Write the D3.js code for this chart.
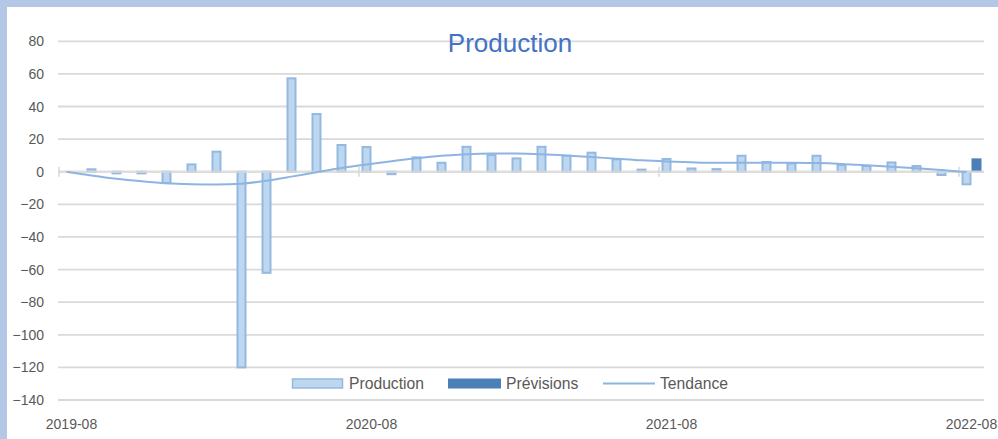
<!DOCTYPE html>
<html>
<head>
<meta charset="utf-8">
<script src="https://cdn.jsdelivr.net/npm/d3@7"></script>
<style>
  html, body { margin: 0; padding: 0; background: #fff; }
  svg { display: block; }
  text { font-family: "Liberation Sans", Arial, sans-serif; }
</style>
</head>
<body>
<svg id="chart" width="998" height="439"></svg>
<script>
// ---- Data ----
const categories = [
  "2019-08","2019-09","2019-10","2019-11","2019-12","2020-01","2020-02","2020-03","2020-04","2020-05","2020-06","2020-07",
  "2020-08","2020-09","2020-10","2020-11","2020-12","2021-01","2021-02","2021-03","2021-04","2021-05","2021-06","2021-07",
  "2021-08","2021-09","2021-10","2021-11","2021-12","2022-01","2022-02","2022-03","2022-04","2022-05","2022-06","2022-07",
  "2022-08"
];
const production = [
  0, 1.5, -1, -1, -7, 4.5, 12.3, -120, -62, 57.3, 35.4, 16.4,
  15.2, -1.5, 8.8, 5.5, 15.3, 10.2, 8.2, 15.3, 9.8, 11.7, 7.6, 1.3,
  7.8, 2, 1.6, 9.8, 6, 5.1, 9.8, 4.1, 3.5, 5.7, 3.5, -2,
  -7.7
];
const previsions = [
  null, null, null, null, null, null, null, null, null, null, null, null,
  null, null, null, null, null, null, null, null, null, null, null, null,
  null, null, null, null, null, null, null, null, null, null, null, null,
  8.2
];
const tendance = [
  0, -2.3, -4.3, -5.8, -7, -7.6, -7.8, -7.3, -5.5, -3, -0.3, 2.3,
  4.5, 6.5, 8.3, 9.8, 10.8, 11.2, 11.2, 10.8, 10, 9, 8, 7,
  6.3, 5.8, 5.5, 5.5, 5.5, 5.5, 5.3, 4.8, 4, 3.1, 2.1, 1,
  -0.2
];
const yTicks = [80, 60, 40, 20, 0, -20, -40, -60, -80, -100, -120, -140];
const xTickLabels = ["2019-08", "2020-08", "2021-08", "2022-08"];
const seriesNames = ["Production", "Prévisions", "Tendance"];
const title = "Production";

// ---- Layout ----
const svg = d3.select("#chart");
const W = 998, H = 439;
const colors = { prod: "#bdd7ee", prodStroke: "#93b9e2", prev: "#4a7fb8", trend: "#8eb4e3", grid: "#d9d9d9", text: "#595959" };

// background + border (left/top visible)
svg.append("rect").attr("x", 0).attr("y", 0).attr("width", W).attr("height", H).attr("fill", "#b4c7e7");
svg.append("rect").attr("x", 7).attr("y", 7).attr("width", W - 7).attr("height", H - 7).attr("fill", "#ffffff");

const x0 = d3.scaleBand().domain(categories).range([59, 984]);
const x1 = d3.scaleBand().domain(["Production", "Prévisions"]).range([0, x0.bandwidth()]).paddingOuter(0.25);
const y = d3.scaleLinear().domain([-140, 80]).range([400, 41.3]);

// gridlines
svg.append("g").selectAll("line").data(yTicks.filter(d => d !== 0)).join("line")
  .attr("x1", 58).attr("x2", 984)
  .attr("y1", d => y(d)).attr("y2", d => y(d))
  .attr("stroke", colors.grid).attr("stroke-width", 1.8);

// y axis labels
const yAxis = d3.axisLeft(y).tickValues(yTicks).tickSize(0).tickPadding(0);
const gy = svg.append("g").attr("transform", "translate(44,0)").call(yAxis);
gy.select(".domain").remove();
gy.selectAll("text").attr("fill", colors.text).style("font-size", "14px").style("font-family", "'Liberation Sans', Arial, sans-serif");

// bars
const bars = svg.append("g");
bars.selectAll("rect.prod").data(categories.map((c, i) => ({ c, v: production[i] }))).join("rect")
  .attr("class", "prod")
  .attr("x", d => x0(d.c) + x1("Production") + 1)
  .attr("width", x1.bandwidth() - 2)
  .attr("y", d => Math.min(y(d.v), y(0)))
  .attr("height", d => Math.abs(y(d.v) - y(0)))
  .attr("fill", colors.prod).attr("stroke", colors.prodStroke).attr("stroke-width", 2);

bars.selectAll("rect.prev").data(categories.map((c, i) => ({ c, v: previsions[i] })).filter(d => d.v !== null)).join("rect")
  .attr("class", "prev")
  .attr("x", d => x0(d.c) + x1("Prévisions"))
  .attr("width", x1.bandwidth())
  .attr("y", d => Math.min(y(d.v), y(0)))
  .attr("height", d => Math.abs(y(d.v) - y(0)))
  .attr("fill", colors.prev);

// zero axis line with ticks
const gx = svg.append("g").attr("transform", `translate(0,${y(0)})`);
gx.append("line").attr("x1", 58).attr("x2", 984).attr("y1", 0).attr("y2", 0)
  .attr("stroke", colors.grid).attr("stroke-width", 2.5).attr("opacity", 0.85);
gx.selectAll("line.tick").data(xTickLabels).join("line")
  .attr("class", "tick")
  .attr("x1", d => x0(d)).attr("x2", d => x0(d))
  .attr("y1", -5).attr("y2", 5)
  .attr("stroke", colors.grid).attr("stroke-width", 1.5);

// trend line
const line = d3.line()
  .x((d, i) => x0(categories[i]) + x1("Production") + x1.bandwidth() / 2)
  .y(d => y(d))
  .curve(d3.curveMonotoneX);
svg.append("path").datum(tendance).attr("d", line)
  .attr("fill", "none").attr("stroke", colors.trend).attr("stroke-width", 2);

// x labels at bottom
svg.append("g").selectAll("text").data(xTickLabels).join("text")
  .attr("x", d => x0(d) + x0.bandwidth() / 2)
  .attr("y", 429)
  .attr("text-anchor", "middle")
  .attr("fill", colors.text).style("font-size", "14px")
  .text(d => d);

// title
svg.append("text").attr("x", 510).attr("y", 52).attr("text-anchor", "middle")
  .attr("fill", "#4472c4").style("font-size", "26px").text(title);

// legend
const lg = svg.append("g");
const ly = 383.5;
lg.append("rect").attr("x", 292.5).attr("y", ly - 4.5).attr("width", 50).attr("height", 9)
  .attr("fill", colors.prod).attr("stroke", colors.prodStroke).attr("stroke-width", 1.5);
lg.append("text").attr("x", 349).attr("y", ly).attr("dy", "0.36em").attr("fill", colors.text)
  .style("font-size", "15.7px").text(seriesNames[0]);
lg.append("rect").attr("x", 448).attr("y", ly - 5).attr("width", 53).attr("height", 10)
  .attr("fill", colors.prev);
lg.append("text").attr("x", 506).attr("y", ly).attr("dy", "0.36em").attr("fill", colors.text)
  .style("font-size", "15.7px").text(seriesNames[1]);
lg.append("line").attr("x1", 603).attr("x2", 655).attr("y1", ly).attr("y2", ly)
  .attr("stroke", colors.trend).attr("stroke-width", 2);
lg.append("text").attr("x", 660).attr("y", ly).attr("dy", "0.36em").attr("fill", colors.text)
  .style("font-size", "15.7px").text(seriesNames[2]);
</script>
</body>
</html>
